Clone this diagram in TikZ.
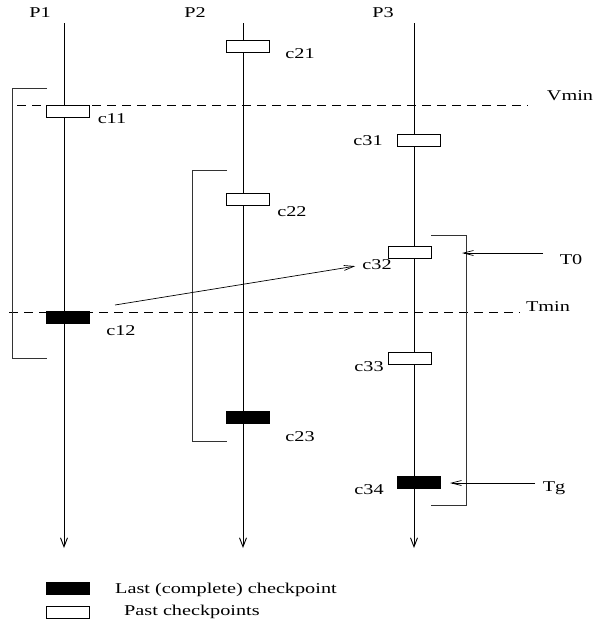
\documentclass[tikz,border=0pt]{standalone}
\usepackage{fontspec}
\setmainfont{Liberation Serif}
\newfontfamily\lblfont[FakeStretch=1.35]{Liberation Serif}
\usetikzlibrary{arrows.meta}
\begin{document}
\begin{tikzpicture}[x=1pt,y=-1pt,
  lbl/.style={inner sep=0pt,font=\lblfont\fontsize{15}{15}\selectfont},
  past/.style={draw,line width=0.8pt,fill=white,minimum width=43pt,minimum height=12pt,inner sep=0pt},
  last/.style={draw,line width=0.8pt,fill=black,minimum width=43pt,minimum height=12pt,inner sep=0pt},
  axis/.style={line width=0.9pt,-{Straight Barb[length=9pt,width=7pt,line width=0.9pt]}},
  level/.style={line width=0.7pt,dash pattern=on 9pt off 6pt},
  brk/.style={line width=0.8pt,draw=black!80},
  msg/.style={line width=0.7pt,-{Straight Barb[length=10pt,width=5pt,line width=0.7pt]}}]
\useasboundingbox (0,0) rectangle (597,624);

% process time lines
\coordinate (p1top) at (64,23);  \coordinate (p1end) at (64,548);
\coordinate (p2top) at (243,23); \coordinate (p2end) at (243,548);
\coordinate (p3top) at (414,23); \coordinate (p3end) at (414,548);
\node[lbl] (P1) at (40,13) {P1};
\node[lbl] (P2) at (195,13) {P2};
\node[lbl] (P3) at (383,13) {P3};

% recovery lines
\coordinate (vminA) at (17,105);  \coordinate (vminB) at (528,105);
\coordinate (tminA) at (9,312);   \coordinate (tminB) at (520,312);
\draw[level] (vminA) -- (vminB);
\draw[level] (tminA) -- (tminB);
\node[lbl] (Vmin) at (570,96) {Vmin};
\node[lbl] (Tmin) at (548,307) {Tmin};

\draw[axis] (p1top) -- (p1end);
\draw[axis] (p2top) -- (p2end);
\draw[axis] (p3top) -- (p3end);

% intervals
\coordinate (b1a) at (47,88);   \coordinate (b1b) at (47,358);
\coordinate (b2a) at (227,170); \coordinate (b2b) at (227,441);
\coordinate (b3a) at (431,235); \coordinate (b3b) at (431,505);
\draw[brk] (b1a) -| (12,358) -- (b1b);
\draw[brk] (b2a) -| (192,441) -- (b2b);
\draw[brk] (b3a) -| (466,505) -- (b3b);

% checkpoints
\node[past] (c21) at (247.5,46) {};
\node[past] (c11) at (67.5,111) {};
\node[past] (c31) at (418.5,140) {};
\node[past] (c22) at (247.5,199) {};
\node[past] (c32) at (410,252.5) {};
\node[last] (c12) at (68,317) {};
\node[past] (c33) at (410,358.5) {};
\node[last] (c23) at (247.5,417) {};
\node[last] (c34) at (419,482) {};

\node[lbl] (lc21) at (300,54) {c21};
\node[lbl] (lc11) at (112,119) {c11};
\node[lbl] (lc31) at (368,141) {c31};
\node[lbl] (lc22) at (292,212) {c22};
\node[lbl] (lc32) at (377,265) {c32};
\node[lbl] (lc12) at (121,331) {c12};
\node[lbl] (lc33) at (369,367) {c33};
\node[lbl] (lc23) at (300,437) {c23};
\node[lbl] (lc34) at (369,490) {c34};

% message and time marks
\coordinate (msgA) at (115,305);
\draw[msg,shorten >=7pt] (msgA) -- (lc32.west);
\node[lbl] (T0) at (571,260) {T0};
\node[lbl] (Tg) at (554,488) {Tg};
\coordinate (t0tail) at (543,253); \coordinate (t0head) at (462,253);
\coordinate (tgtail) at (535,483); \coordinate (tghead) at (450,483);
\draw[msg] (t0tail) -- (t0head);
\draw[msg] (tgtail) -- (tghead);

% legend
\node[last] (keyLast) at (68,588) {};
\node[past] (keyPast) at (68,612) {};
\node[lbl,anchor=west] (txtLast) at (115,590) {Last (complete) checkpoint};
\node[lbl,anchor=west] (txtPast) at (124,612) {Past checkpoints};
\end{tikzpicture}
\end{document}
